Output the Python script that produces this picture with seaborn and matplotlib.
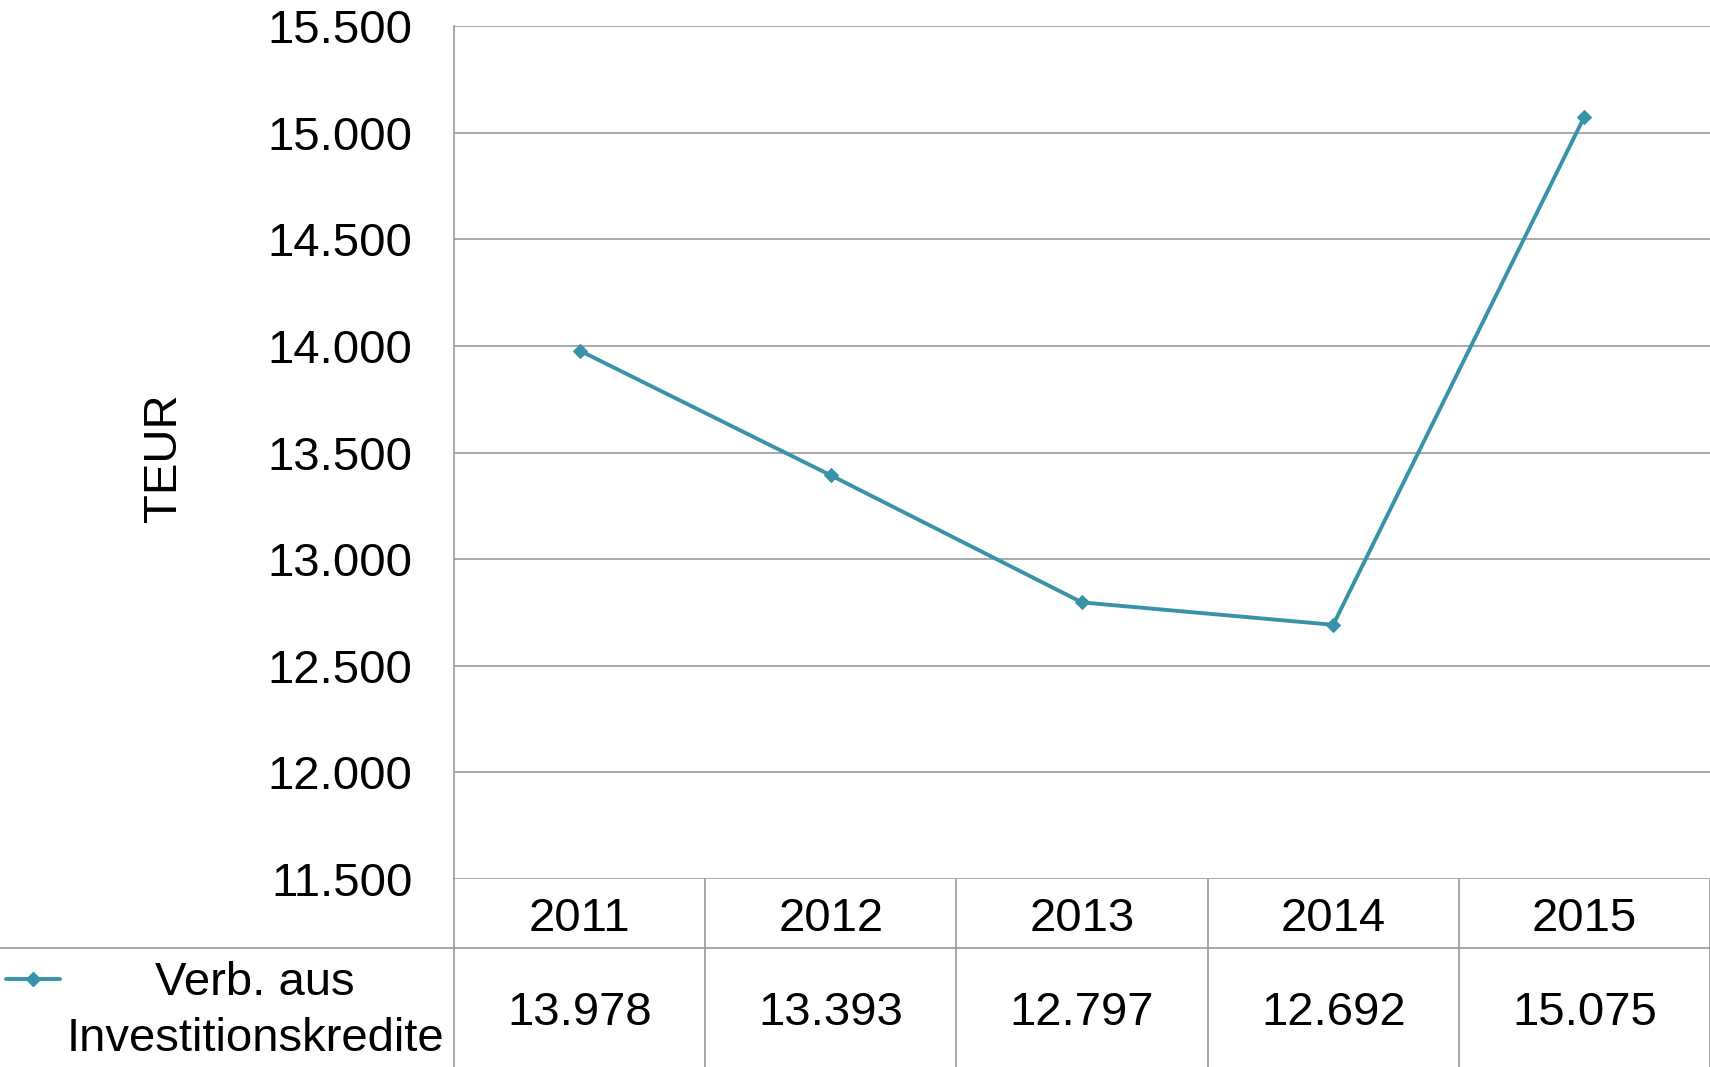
import pandas as pd
import seaborn as sns
import matplotlib.pyplot as plt
from matplotlib.lines import Line2D
from matplotlib.ticker import FuncFormatter
from matplotlib.transforms import blended_transform_factory

years = ["2011", "2012", "2013", "2014", "2015"]
values = [13978, 13393, 12797, 12692, 15075]
series_name = "Verb. aus\nInvestitionskredite"
y_ticks = [11500, 12000, 12500, 13000, 13500, 14000, 14500, 15000, 15500]

line_color = "#3993A8"
grid_color = "#999999"
fs = 34


def de_fmt(v):
    # German thousands separator
    return f"{v:,.0f}".replace(",", ".")


sns.set_theme(style="white")
plt.rcParams['font.family'] = ['Liberation Sans', 'DejaVu Sans']
plt.rcParams['text.color'] = 'black'

df = pd.DataFrame({"Jahr": years, "Wert": values})

fig = plt.figure(figsize=(17.1, 10.67), dpi=100)
ax = fig.add_axes([454 / 1710, 1 - 879 / 1067, 1 - 454 / 1710, (879 - 26) / 1067])

sns.lineplot(data=df, x="Jahr", y="Wert", ax=ax, color=line_color, linewidth=2.8,
             marker="D", markersize=7, markeredgecolor=line_color, sort=False)

ax.set_xlim(-0.5, len(years) - 0.5)
ax.set_ylim(y_ticks[0], y_ticks[-1])
ax.set_yticks(y_ticks)
ax.yaxis.set_major_formatter(FuncFormatter(lambda v, p: de_fmt(v)))
ax.tick_params(axis="y", length=0, pad=30, labelsize=fs, labelcolor="black")
ax.set_xticks([])
ax.set_xlabel("")
ax.set_ylabel("")
ax.grid(axis="y", color=grid_color, linewidth=1.2)
for side in ["top", "right", "bottom"]:
    ax.spines[side].set_visible(False)
ax.spines["left"].set_color(grid_color)
ax.spines["left"].set_linewidth(1.2)

fig.text(164 / 1710, 1 - 458 / 1067, "TEUR", rotation=90, ha="center", va="center",
         fontsize=fs, color="black")

# data table below the chart
tr = blended_transform_factory(ax.transData, fig.transFigure)
y_axis = 1 - 879 / 1067
y_mid = 1 - 948 / 1067
for i in range(1, len(years)):
    fig.add_artist(Line2D([i - 0.5, i - 0.5], [0, y_axis], transform=tr,
                          color=grid_color, linewidth=1.2))
fig.add_artist(Line2D([454 / 1710, 454 / 1710], [0, y_axis], color=grid_color,
                      linewidth=1.2))
fig.add_artist(Line2D([len(years) - 0.5, len(years) - 0.5], [0, y_axis], transform=tr,
                      color=grid_color, linewidth=1.2))
fig.add_artist(Line2D([0, 1], [y_mid, y_mid], color=grid_color, linewidth=1.2))

for i, (yr, v) in enumerate(zip(years, values)):
    ax.text(i, 1 - 919 / 1067, yr, transform=tr, ha="center", va="center",
            fontsize=fs, color="black")
    ax.text(i, 1 - 1013 / 1067, de_fmt(v), transform=tr, ha="center", va="center",
            fontsize=fs, color="black")

# legend key in the table
fig.add_artist(Line2D([6 / 1710, 60 / 1710], [1 - 979 / 1067, 1 - 979 / 1067],
                      color=line_color, linewidth=2.8))
fig.add_artist(Line2D([33 / 1710], [1 - 979 / 1067], color=line_color, marker="D",
                      markersize=7, linestyle="none"))
fig.text(255 / 1710, 1 - 1011 / 1067, series_name, ha="center", va="center",
         multialignment="center", fontsize=fs, linespacing=1.33, color="black")

fig.savefig("out.png", dpi=100)
